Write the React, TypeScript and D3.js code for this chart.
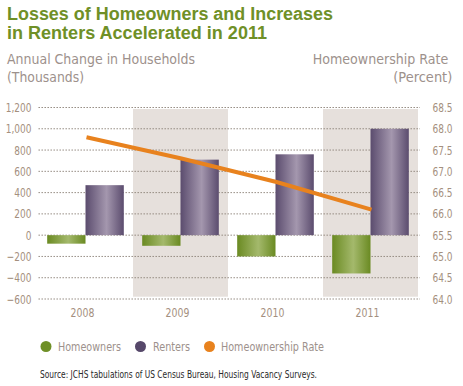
import React from "react";
import * as d3 from "d3";

const years = ["2008", "2009", "2010", "2011"];
const homeowners = [-80, -100, -200, -360];
const renters = [470, 710, 760, 1000];
const ownershipRate = [67.8, 67.3, 66.75, 66.1];
const leftTicks = [-600, -400, -200, 0, 200, 400, 600, 800, 1000, 1200];
const rightTicks = [64.0, 64.5, 65.0, 65.5, 66.0, 66.5, 67.0, 67.5, 68.0, 68.5];
const shadedYears = ["2009", "2011"];
const seriesNames = ["Homeowners", "Renters"];

const W = 463;
const H = 386;
const NARROW = "'Liberation Sans Narrow', 'Arial Narrow', 'DejaVu Sans Condensed', sans-serif";
const BOLD = "'Liberation Sans', Arial, sans-serif";
const SQUEEZE = 0.8;

export default function App() {
  const x = d3.scaleBand<string>().domain(years).range([38, 418]).padding(0);
  const x1 = d3
    .scaleBand<string>()
    .domain(seriesNames)
    .range([0, x.bandwidth()])
    .paddingInner(0)
    .paddingOuter(0.24);
  const y = d3.scaleLinear().domain([-600, 1200]).range([299, 107.5]);
  const yR = d3.scaleLinear().domain([64, 68.5]).range([299, 107.5]);

  const line = d3
    .line<number>()
    .x((_, i) => (x(years[i]) as number) + x.bandwidth() / 2 + 1)
    .y((d) => yR(d));

  const labelColor = "#a48f7e";
  const subColor = "#9d918c";

  return (
    <svg
      width={W}
      height={H}
      style={{ position: "absolute", left: 0, top: 0, background: "#fff" }}
    >
      <defs>
        <linearGradient id="gRent" x1="0" x2="1" y1="0" y2="0">
          <stop offset="0%" stopColor="#5b4c6e" />
          <stop offset="55%" stopColor="#a497ae" />
          <stop offset="100%" stopColor="#5b4c6e" />
        </linearGradient>
        <linearGradient id="gOwn" x1="0" x2="1" y1="0" y2="0">
          <stop offset="0%" stopColor="#6a8a22" />
          <stop offset="55%" stopColor="#a4b96c" />
          <stop offset="100%" stopColor="#6a8a22" />
        </linearGradient>
      </defs>

      {/* Title */}
      <text x={7} y={19.5} fontFamily={BOLD} fontWeight="bold" fontSize={18} fill="#6f9027" textLength={326} lengthAdjust="spacingAndGlyphs">
        Losses of Homeowners and Increases
      </text>
      <text x={7} y={39} fontFamily={BOLD} fontWeight="bold" fontSize={18} fill="#6f9027" textLength={260} lengthAdjust="spacingAndGlyphs">
        in Renters Accelerated in 2011
      </text>

      {/* Axis titles */}
      <text x={7} y={64} fontFamily={NARROW} fontSize={14.5} fill={subColor} textLength={188} lengthAdjust="spacingAndGlyphs">
        Annual Change in Households
      </text>
      <text x={7} y={82} fontFamily={NARROW} fontSize={14.5} fill={subColor} textLength={77} lengthAdjust="spacingAndGlyphs">
        (Thousands)
      </text>
      <text x={312.7} y={64} fontFamily={NARROW} fontSize={14.5} fill={subColor} textLength={135.6} lengthAdjust="spacingAndGlyphs">
        Homeownership Rate
      </text>
      <text x={393.3} y={82} fontFamily={NARROW} fontSize={14.5} fill={subColor} textLength={59} lengthAdjust="spacingAndGlyphs">
        (Percent)
      </text>

      {/* Shaded bands */}
      {shadedYears.map((yr) => (
        <rect key={yr} x={x(yr)} y={109} width={x.bandwidth()} height={296.7 - 109} fill="#e6e0dc" />
      ))}

      {/* Gridlines */}
      {leftTicks.map((t) => (
        <line key={t} x1={38.5} x2={420} y1={y(t)} y2={y(t)} stroke="#8d8379" strokeWidth={1} strokeDasharray="1.4,1.6" />
      ))}

      {/* Left tick labels */}
      {leftTicks.map((t) => (
        <g key={t} transform={`translate(31.5,${y(t)}) scale(${SQUEEZE},1)`}>
          <text x={0} y={0} dy="0.36em" textAnchor="end" fontFamily={NARROW} fontSize={12.5} fill={labelColor}>
            {d3.format(",")(t)}
          </text>
        </g>
      ))}
      {/* Right tick labels */}
      {rightTicks.map((t) => (
        <g key={t} transform={`translate(432.5,${yR(t)}) scale(${SQUEEZE},1)`}>
          <text x={0} y={0} dy="0.36em" textAnchor="start" fontFamily={NARROW} fontSize={12.5} fill={labelColor}>
            {t.toFixed(1)}
          </text>
        </g>
      ))}

      {/* Bars */}
      {years.map((yr, i) => (
        <g key={yr} transform={`translate(${x(yr)},0)`}>
          <rect
            x={x1("Homeowners")}
            y={y(Math.max(0, homeowners[i]))}
            width={x1.bandwidth()}
            height={Math.abs(y(homeowners[i]) - y(0))}
            fill="url(#gOwn)"
          />
          <rect
            x={x1("Renters")}
            y={y(Math.max(0, renters[i]))}
            width={x1.bandwidth()}
            height={Math.abs(y(renters[i]) - y(0))}
            fill="url(#gRent)"
          />
        </g>
      ))}

      {/* Ownership rate line */}
      <path d={line(ownershipRate) || ""} fill="none" stroke="#e8821e" strokeWidth={4} strokeLinecap="butt" />

      {/* Year labels */}
      {years.map((yr) => (
        <g key={yr} transform={`translate(${(x(yr) as number) + x.bandwidth() / 2 - 3},316.5) scale(${SQUEEZE},1)`}>
          <text x={0} y={0} textAnchor="middle" fontFamily={NARROW} fontSize={13} fill={labelColor}>
            {yr}
          </text>
        </g>
      ))}

      {/* Legend */}
      <circle cx={46} cy={346.5} r={5.5} fill="#6f9027" />
      <text x={58} y={351} fontFamily={NARROW} fontSize={12.5} fill={subColor} textLength={63} lengthAdjust="spacingAndGlyphs">
        Homeowners
      </text>
      <circle cx={140.5} cy={346.5} r={5.5} fill="#56486a" />
      <text x={153} y={351} fontFamily={NARROW} fontSize={12.5} fill={subColor} textLength={37} lengthAdjust="spacingAndGlyphs">
        Renters
      </text>
      <circle cx={209.5} cy={346.5} r={5.5} fill="#e8821e" />
      <text x={221} y={351} fontFamily={NARROW} fontSize={12.5} fill={subColor} textLength={103} lengthAdjust="spacingAndGlyphs">
        Homeownership Rate
      </text>

      {/* Source */}
      <text x={40} y={378} fontFamily={NARROW} fontSize={10.5} fill="#2a2a2a" textLength={277} lengthAdjust="spacingAndGlyphs">
        Source: JCHS tabulations of US Census Bureau, Housing Vacancy Surveys.
      </text>
    </svg>
  );
}
